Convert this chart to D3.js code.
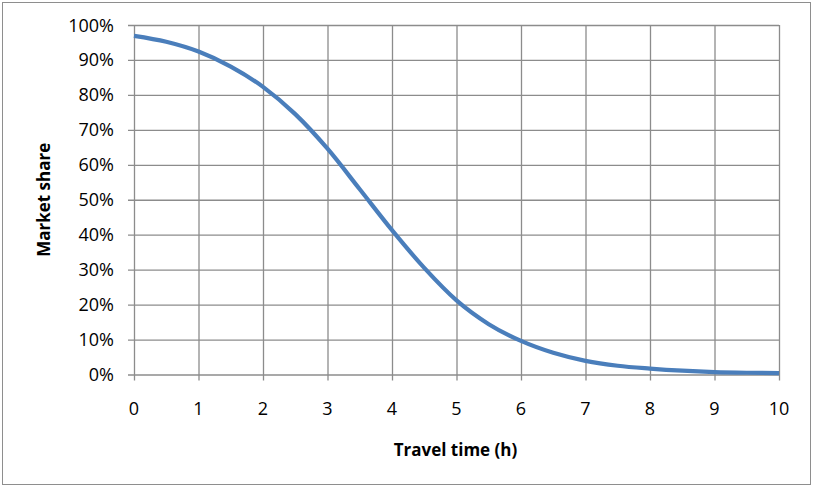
<!DOCTYPE html>
<html>
<head>
<meta charset="utf-8">
<script src="https://cdn.jsdelivr.net/npm/d3@7"></script>
<style>
  html, body { margin: 0; padding: 0; background: #fff; }
  svg { display: block; }
  text { font-family: "Open Sans", "Liberation Sans", sans-serif; fill: #000; }
</style>
</head>
<body>
<svg id="chart" width="813" height="487"></svg>
<script>
// Data
const travelTime = [0, 0.5, 1, 1.5, 2, 2.5, 3, 3.5, 4, 4.5, 5, 5.5, 6, 6.5, 7, 7.5, 8, 8.5, 9, 9.5, 10];
const marketShare = [0.969, 0.952, 0.924, 0.881, 0.823, 0.745, 0.646, 0.530, 0.413, 0.305, 0.212, 0.144, 0.096, 0.062, 0.039, 0.025, 0.017, 0.011, 0.007, 0.005, 0.004];
const xTicks = [0, 1, 2, 3, 4, 5, 6, 7, 8, 9, 10];
const yTicks = [0, 0.1, 0.2, 0.3, 0.4, 0.5, 0.6, 0.7, 0.8, 0.9, 1.0];
const xTitle = "Travel time (h)";
const yTitle = "Market share";

const svg = d3.select("#chart");
const W = 813, H = 487;
const plot = { left: 134, right: 779, top: 25, bottom: 374.5 };

// outer border
svg.append("rect")
  .attr("x", 2.5).attr("y", 2.5)
  .attr("width", W - 5).attr("height", H - 5)
  .attr("fill", "#fff").attr("stroke", "#8e8e8e").attr("stroke-width", 1);

const x = d3.scaleLinear().domain([0, 10]).range([plot.left, plot.right]);
const y = d3.scaleLinear().domain([0, 1]).range([plot.bottom, plot.top]);

const gridColor = "#8c8c8c";

// vertical gridlines + ticks
const xAxis = d3.axisBottom(x).tickValues(xTicks)
  .tickSize(-(plot.bottom - plot.top)).tickFormat("");
svg.append("g").attr("transform", `translate(0,${plot.bottom})`).call(xAxis)
  .call(g => g.select(".domain").remove())
  .call(g => g.selectAll(".tick line").attr("stroke", gridColor).attr("stroke-width", 1.3)
    .attr("y2", -(plot.bottom - plot.top)).attr("y1", 6));

// horizontal gridlines + ticks
const yAxis = d3.axisLeft(y).tickValues(yTicks)
  .tickSize(-(plot.right - plot.left)).tickFormat("");
svg.append("g").attr("transform", `translate(${plot.left},0)`).call(yAxis)
  .call(g => g.select(".domain").remove())
  .call(g => g.selectAll(".tick line").attr("stroke", gridColor).attr("stroke-width", 1.3)
    .attr("x2", plot.right - plot.left).attr("x1", -6));

// tick labels
svg.append("g").selectAll("text").data(xTicks).join("text")
  .attr("x", d => x(d)).attr("y", 415)
  .attr("text-anchor", "middle")
  .style("font-size", "18px")
  .text(d => d);

svg.append("g").selectAll("text").data(yTicks).join("text")
  .attr("x", 114).attr("y", d => y(d) + 6.5)
  .attr("text-anchor", "end")
  .style("font-size", "18px")
  .text(d => d3.format(".0%")(d));

// axis titles
svg.append("text")
  .attr("x", (plot.left + plot.right) / 2 - 1).attr("y", 456)
  .attr("text-anchor", "middle")
  .style("font-size", "17px").style("font-weight", "bold")
  .text(xTitle);

svg.append("text")
  .attr("transform", `translate(50,${(plot.top + plot.bottom) / 2}) rotate(-90)`)
  .attr("text-anchor", "middle")
  .style("font-size", "17px").style("font-weight", "bold")
  .text(yTitle);

// curve
const line = d3.line()
  .x((d, i) => x(travelTime[i]))
  .y(d => y(d))
  .curve(d3.curveMonotoneX);

svg.append("path")
  .datum(marketShare)
  .attr("d", line)
  .attr("fill", "none")
  .attr("stroke", "#4a7ebb")
  .attr("stroke-width", 4.2)
  .attr("stroke-linecap", "butt")
  .attr("stroke-linejoin", "round");
</script>
</body>
</html>
